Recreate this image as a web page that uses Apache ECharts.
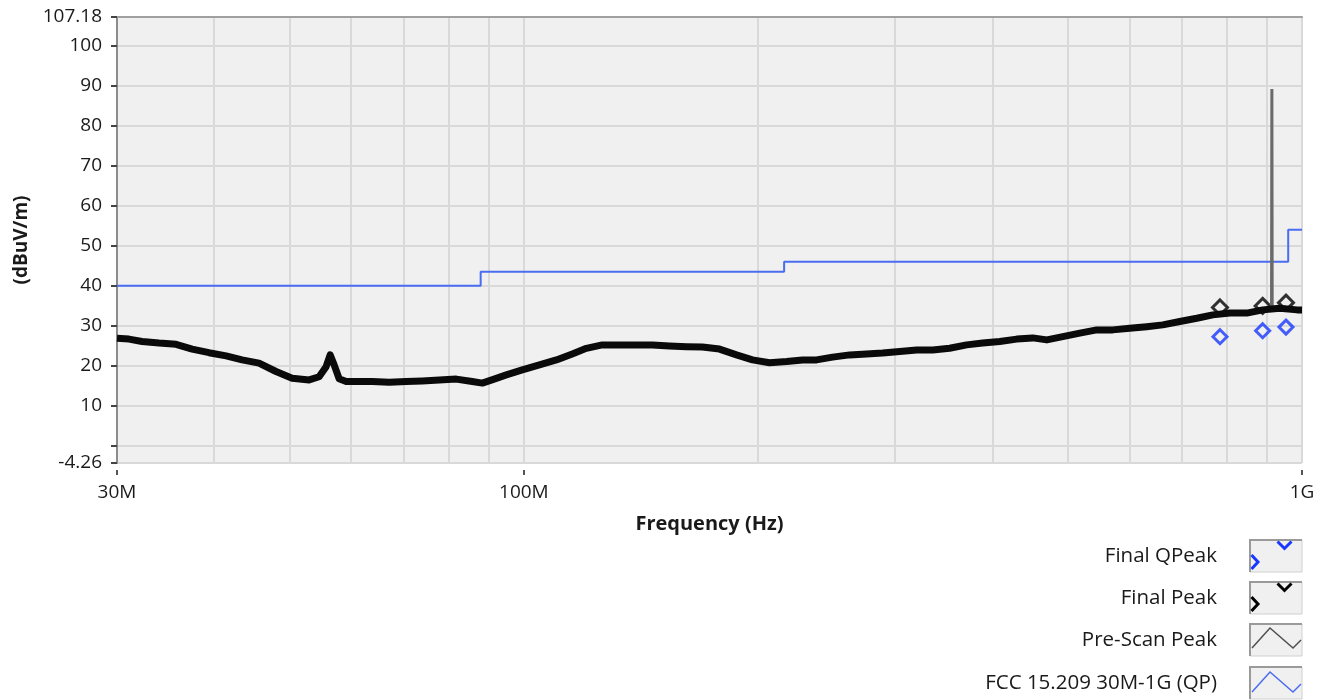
<!DOCTYPE html>
<html><head><meta charset="utf-8">
<script src="https://cdn.jsdelivr.net/npm/echarts@6/dist/echarts.min.js"></script>
<style>html,body{margin:0;padding:0;background:#fff}#c{width:1326px;height:700px}</style>
</head><body><div id="c"></div>
<script>
// ---- data ----
const seriesNames = ['Final QPeak', 'Final Peak', 'Pre-Scan Peak', 'FCC 15.209 30M-1G (QP)'];
const xTickFreq = [30, 100, 1000];            // MHz
const xTickLabels = ['30M', '100M', '1G'];
const xGridFreq = [30, 40, 50, 60, 70, 80, 90, 100, 200, 300, 400, 500, 600, 700, 800, 900, 1000];
const yMin = -4.26, yMax = 107.18;
const yTicks = [-4.26, 0, 10, 20, 30, 40, 50, 60, 70, 80, 90, 100, 107.18];
const yLabels = [-4.26, 10, 20, 30, 40, 50, 60, 70, 80, 90, 100, 107.18];

const scanFreq = [30.0, 31.08, 32.31, 33.97, 35.73, 37.47, 39.39, 41.43, 43.44, 45.67, 48.03, 50.37, 52.97, 54.56, 55.70, 56.37, 57.04, 57.89, 59.11, 60.89, 63.84, 67.14, 70.61, 74.03, 77.85, 81.87, 85.84, 88.43, 92.17, 94.93, 99.54, 104.7, 110.1, 115.4, 120.3, 126.1, 132.7, 139.5, 146.3, 153.8, 161.8, 169.6, 178.4, 187.6, 196.7, 206.9, 217.6, 228.1, 237.8, 249.3, 262.2, 275.7, 289.1, 304.1, 319.8, 335.3, 352.5, 370.7, 388.7, 408.8, 429.9, 450.8, 469.9, 492.7, 518.1, 544.8, 571.2, 600.6, 631.6, 662.3, 696.6, 732.5, 768.1, 807.7, 849.4, 890.6, 913.8, 914.7, 915.6, 936.6, 985.2, 1000];
const scanLevel = [26.9, 26.7, 26.1, 25.7, 25.4, 24.2, 23.3, 22.5, 21.5, 20.7, 18.6, 16.9, 16.5, 17.3, 19.8, 22.75, 20.25, 16.8, 16.1, 16.1, 16.1, 15.9, 16.1, 16.25, 16.5, 16.7, 16.1, 15.7, 16.9, 17.75, 19.0, 20.25, 21.5, 23.0, 24.4, 25.25, 25.25, 25.25, 25.25, 25.0, 24.8, 24.7, 24.2, 22.75, 21.5, 20.8, 21.1, 21.5, 21.5, 22.2, 22.75, 23.0, 23.2, 23.6, 24.0, 24.0, 24.4, 25.25, 25.7, 26.1, 26.7, 27.0, 26.5, 27.3, 28.2, 29.0, 29.0, 29.4, 29.8, 30.25, 31.1, 31.9, 32.75, 33.2, 33.2, 34.0, 34.2, 89.2, 34.2, 34.4, 34.0, 34.0];

const limitFreq = [30, 88, 88, 216, 216, 960, 960, 1000];
const limitLevel = [40, 40, 43.5, 43.5, 46, 46, 54, 54];

const qpFreq = [784.5, 890.1, 953.7];
const qpLevel = [27.3, 28.8, 29.7];
const pkFreq = [784.5, 890.1, 953.7];
const pkLevel = [34.6, 35.0, 35.8];

// ---- build ----
const L = v => Math.log10(v);
const pairs = (f, v) => f.map((x, i) => [L(x), v[i]]);
const xMin = L(30), xMax = L(1000);
const FONT = '"Open Sans", "Noto Sans", sans-serif';
const TXT = '#1a1a1a';
const labelMap = {};
xTickFreq.forEach((f, i) => { labelMap[L(f).toFixed(6)] = xTickLabels[i]; });

const scanPairs = pairs(scanFreq, scanLevel);
const bandPairs = scanPairs.filter(p => p[1] < 60);

const legendY = [540, 582, 624, 667];
const graphics = [];
seriesNames.forEach((n, i) => {
  const y0 = legendY[i];
  graphics.push({type: 'text', x: 1217, y: y0 + 16, style: {text: n, fill: TXT, fontSize: 20.5, fontFamily: FONT, align: 'right', verticalAlign: 'middle'}});
  graphics.push({type: 'rect', shape: {x: 1250, y: y0, width: 52, height: 32}, style: {fill: '#f0f0f0', stroke: '#d0d0d0', lineWidth: 1}});
  graphics.push({type: 'polyline', shape: {points: [[1250, y0 + 32], [1250, y0], [1302, y0]]}, style: {stroke: '#9a9a9a', lineWidth: 2, fill: null}});
});
const mk = (pts, color, w) => ({type: 'polyline', shape: {points: pts}, style: {stroke: color, lineWidth: w, fill: null}});
[[0, '#1838ff'], [1, '#000']].forEach(([i, c]) => {
  const y0 = legendY[i];
  graphics.push(mk([[1251.5, y0 + 15], [1258, y0 + 22], [1251.5, y0 + 29]], c, 3));
  graphics.push(mk([[1277.5, y0 + 1.5], [1284.5, y0 + 8.5], [1291.5, y0 + 1.5]], c, 3));
});
graphics.push(mk([[1252, legendY[2] + 24], [1270, legendY[2] + 4], [1293, legendY[2] + 24], [1301, legendY[2] + 16]], '#505050', 1.5));
graphics.push(mk([[1252, legendY[3] + 25], [1270, legendY[3] + 5], [1293, legendY[3] + 25], [1301, legendY[3] + 17]], '#4a6cf0', 1.5));

const chart = echarts.init(document.getElementById('c'), null, {renderer: 'canvas'});
chart.setOption({
  animation: false,
  backgroundColor: '#ffffff',
  textStyle: {fontFamily: FONT},
  grid: {left: 117, right: 24, top: 17, bottom: 237, show: true, backgroundColor: '#f0f0f0', borderWidth: 0, containLabel: false},
  xAxis: [
    {type: 'value', min: xMin, max: xMax, position: 'bottom',
     axisLine: {show: false}, axisLabel: {show: false},
     axisTick: {show: false, customValues: xGridFreq.map(L)},
     splitLine: {show: true, lineStyle: {color: '#d9d9d9', width: 2}}},
    {type: 'value', min: xMin, max: xMax, position: 'bottom', offset: 7,
     axisLine: {show: false},
     axisTick: {show: true, customValues: xTickFreq.map(L), length: 5, lineStyle: {color: '#555', width: 2}},
     axisLabel: {show: true, customValues: xTickFreq.map(L), margin: 13, fontSize: 19, color: TXT, fontFamily: FONT,
       formatter: v => labelMap[v.toFixed(6)] || ''},
     splitLine: {show: false},
     name: 'Frequency (Hz)', nameLocation: 'middle', nameGap: 44,
     nameTextStyle: {fontSize: 20, fontWeight: 'bold', color: TXT, fontFamily: FONT}},
    {type: 'value', min: xMin, max: xMax, position: 'top',
     axisLine: {show: true, lineStyle: {color: '#a0a0a0', width: 2}},
     axisTick: {show: false}, axisLabel: {show: false}, splitLine: {show: false}}
  ],
  yAxis: [
    {type: 'value', min: yMin, max: yMax,
     axisLine: {show: true, lineStyle: {color: '#8c8c8c', width: 2}},
     axisTick: {show: true, customValues: yTicks, length: 6, lineStyle: {color: '#444', width: 2}},
     axisLabel: {show: true, customValues: yLabels, margin: 15, fontSize: 19, color: TXT, fontFamily: FONT,
       formatter: v => String(v)},
     splitLine: {show: true, lineStyle: {color: '#d9d9d9', width: 2}},
     name: '(dBuV/m)', nameLocation: 'middle', nameRotate: 90, nameGap: 86,
     nameTextStyle: {fontSize: 19, fontWeight: 'bold', color: TXT, fontFamily: FONT}}
  ],
  series: [
    {name: seriesNames[3], type: 'line', xAxisIndex: 0, data: pairs(limitFreq, limitLevel), showSymbol: false,
     lineStyle: {color: '#4a6cf0', width: 2}, z: 3, silent: true},
    {name: seriesNames[1], type: 'scatter', xAxisIndex: 0, data: pairs(pkFreq, pkLevel), symbol: 'diamond', symbolSize: 15,
     itemStyle: {color: 'rgba(0,0,0,0)', borderColor: '#000', borderWidth: 3}, z: 2, silent: true},
    {name: seriesNames[2], type: 'line', xAxisIndex: 0, data: scanPairs, showSymbol: false,
     lineStyle: {color: '#6a6a6a', width: 3}, z: 3, silent: true},
    {name: seriesNames[2] + ' band', type: 'line', xAxisIndex: 0, data: bandPairs, showSymbol: false,
     lineStyle: {color: '#0a0a0a', width: 7, join: 'round'}, z: 4, silent: true},
    {name: seriesNames[0], type: 'scatter', xAxisIndex: 0, data: pairs(qpFreq, qpLevel), symbol: 'diamond', symbolSize: 14,
     itemStyle: {color: 'rgba(0,0,0,0)', borderColor: '#1838ff', borderWidth: 3}, z: 5, silent: true}
  ],
  graphic: graphics
});
</script></body></html>
